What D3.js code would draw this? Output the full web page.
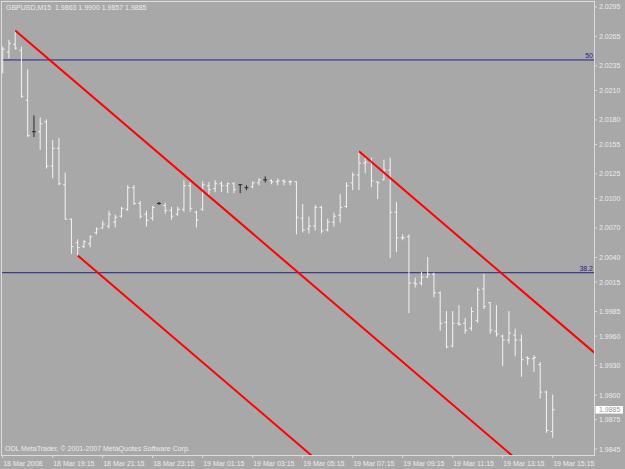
<!DOCTYPE html>
<html>
<head>
<meta charset="utf-8">
<script src="https://cdn.jsdelivr.net/npm/d3@7"></script>
<style>
html, body { margin: 0; padding: 0; background: #a8a8a8; }
svg { display: block; font-family: "Liberation Sans", Arial, sans-serif; }
</style>
</head>
<body>
<div class="chart"></div>
<script>
let width = 625,
    height = 469;

const symbol = "GBPUSD,M15";
const copyright = "ODL MetaTrader, \u00A9 2001-2007 MetaQuotes Software Corp.";

// M15 bars, 18 Mar 17:15 .. 19 Mar 15:15
const opens = [
    2.0231, 2.0249, 2.0257, 2.0251, 2.0200, 2.0168, 2.0168, 2.0178, 2.0133, 2.0151,
    2.0114, 2.0079, 2.0055, 2.0051, 2.0054, 2.0065, 2.0070, 2.0072, 2.0076, 2.0082,
    2.0089, 2.0111, 2.0095, 2.0084, 2.0080, 2.0095, 2.0093, 2.0088, 2.0084, 2.0089,
    2.0113, 2.0086, 2.0089, 2.0113, 2.0110, 2.0115, 2.0113, 2.0115, 2.0114, 2.0111,
    2.0112, 2.0116, 2.0119, 2.0118, 2.0117, 2.0118, 2.0117, 2.0117, 2.0080, 2.0069,
    2.0072, 2.0091, 2.0068, 2.0076, 2.0083, 2.0092, 2.0116, 2.0124, 2.0136, 2.0137,
    2.0117, 2.0119, 2.0129, 2.0086, 2.0060, 2.0061, 2.0014, 2.0014, 2.0020, 2.0023,
    2.0004, 1.9974, 1.9950, 1.9973, 1.9973, 1.9968, 1.9976, 2.0008, 1.9994, 1.9965,
    1.9960, 1.9956, 1.9961, 1.9956, 1.9938, 1.9937, 1.9931, 1.9903, 1.9863
];
const highs = [
    2.0254, 2.0261, 2.0271, 2.0254, 2.0231, 2.0184, 2.0182, 2.0180, 2.0159, 2.0161,
    2.0126, 2.0079, 2.0058, 2.0057, 2.0062, 2.0070, 2.0077, 2.0087, 2.0083, 2.0091,
    2.0113, 2.0113, 2.0097, 2.0087, 2.0092, 2.0096, 2.0095, 2.0091, 2.0091, 2.0118,
    2.0116, 2.0087, 2.0117, 2.0116, 2.0118, 2.0117, 2.0116, 2.0116, 2.0114, 2.0113,
    2.0117, 2.0120, 2.0122, 2.0119, 2.0120, 2.0119, 2.0118, 2.0117, 2.0094, 2.0081,
    2.0093, 2.0092, 2.0079, 2.0085, 2.0104, 2.0116, 2.0126, 2.0148, 2.0141, 2.0141,
    2.0117, 2.0139, 2.0141, 2.0096, 2.0063, 2.0063, 2.0019, 2.0025, 2.0040, 2.0024,
    2.0005, 1.9985, 1.9985, 1.9991, 1.9978, 1.9989, 2.0009, 2.0023, 1.9994, 1.9991,
    1.9961, 1.9985, 1.9967, 1.9961, 1.9939, 1.9940, 1.9933, 1.9904, 1.9900
];
const lows = [
    2.0228, 2.0243, 2.0252, 2.0203, 2.0163, 2.0163, 2.0150, 2.0131, 2.0121, 2.0114,
    2.0079, 2.0044, 2.0042, 2.0050, 2.0051, 2.0064, 2.0070, 2.0070, 2.0071, 2.0081,
    2.0088, 2.0094, 2.0080, 2.0072, 2.0078, 2.0094, 2.0085, 2.0079, 2.0083, 2.0087,
    2.0087, 2.0071, 2.0088, 2.0104, 2.0107, 2.0107, 2.0106, 2.0106, 2.0106, 2.0109,
    2.0111, 2.0114, 2.0117, 2.0115, 2.0114, 2.0114, 2.0114, 2.0064, 2.0066, 2.0065,
    2.0068, 2.0065, 2.0067, 2.0072, 2.0076, 2.0091, 2.0109, 2.0109, 2.0126, 2.0112,
    2.0100, 2.0119, 2.0040, 2.0046, 2.0058, 1.9984, 2.0010, 2.0012, 2.0020, 2.0000,
    1.9966, 1.9948, 1.9949, 1.9971, 1.9963, 1.9966, 1.9974, 1.9988, 1.9963, 1.9960,
    1.9930, 1.9953, 1.9940, 1.9919, 1.9931, 1.9924, 1.9897, 1.9862, 1.9857
];
const closes = [
    2.0252, 2.0258, 2.0253, 2.0204, 2.0164, 2.0168, 2.0176, 2.0133, 2.0151, 2.0115,
    2.0079, 2.0051, 2.0050, 2.0056, 2.0061, 2.0069, 2.0074, 2.0084, 2.0081, 2.0090,
    2.0111, 2.0095, 2.0082, 2.0078, 2.0091, 2.0095, 2.0088, 2.0082, 2.0089, 2.0113,
    2.0090, 2.0078, 2.0114, 2.0109, 2.0115, 2.0113, 2.0115, 2.0109, 2.0114, 2.0111,
    2.0116, 2.0119, 2.0119, 2.0117, 2.0118, 2.0117, 2.0117, 2.0081, 2.0068, 2.0072,
    2.0091, 2.0067, 2.0076, 2.0082, 2.0091, 2.0113, 2.0124, 2.0136, 2.0137, 2.0118,
    2.0116, 2.0129, 2.0086, 2.0060, 2.0060, 2.0014, 2.0013, 2.0020, 2.0023, 2.0004,
    1.9973, 1.9949, 1.9973, 1.9972, 1.9966, 1.9985, 2.0007, 1.9990, 1.9966, 1.9962,
    1.9956, 1.9963, 1.9956, 1.9936, 1.9937, 1.9938, 1.9903, 1.9864, 1.9885
];
const darkBars = [5, 25, 38, 39, 42];

const timeTickBars = [0, 8, 16, 24, 32, 40, 48, 56, 64, 72, 80, 88];
const timeLabels = ["18 Mar 2008", "18 Mar 19:15", "18 Mar 21:15", "18 Mar 23:15",
    "19 Mar 01:15", "19 Mar 03:15", "19 Mar 05:15", "19 Mar 07:15",
    "19 Mar 09:15", "19 Mar 11:15", "19 Mar 13:15", "19 Mar 15:15"];
const priceLabels = ["2.0295", "2.0265", "2.0235", "2.0210", "2.0180", "2.0155",
    "2.0125", "2.0100", "2.0070", "2.0040", "2.0015", "1.9985", "1.9960",
    "1.9930", "1.9900", "1.9875", "1.9845"];

const fiboNames = ["50", "38.2"];
const fiboPrices = [2.0241, 2.00245];

// channel lines: anchor [bar, price], common slope in price per bar
const channelAnchors = [[2, 2.0271], [12, 2.0042], [57, 2.0148]];
const channelSlope = -0.000544;

const plot = { left: 2, top: 2, right: 594, bottom: 455 };

document.addEventListener('DOMContentLoaded', () => {
    let svg = d3.select(".chart").append("svg")
        .attr("width", width)
        .attr("height", height);

    let x = d3.scaleLinear().domain([0, 88]).range([2.7, 552.7]);
    let y = d3.scaleLinear().domain([1.9839, 2.0302]).range([plot.bottom, 0]);

    svg.append("rect")
        .attr("width", width).attr("height", height)
        .style("fill", "#a8a8a8");

    svg.append("clipPath").attr("id", "plotclip")
        .append("rect")
        .attr("x", plot.left).attr("y", plot.top)
        .attr("width", plot.right - plot.left)
        .attr("height", plot.bottom - plot.top);

    let inner = svg.append("g").attr("clip-path", "url(#plotclip)");

    // fibo levels
    fiboPrices.forEach((p, k) => {
        inner.append("line")
            .attr("x1", plot.left).attr("x2", plot.right)
            .attr("y1", y(p)).attr("y2", y(p))
            .style("stroke", "#22228a")
            .style("stroke-width", 1);
        svg.append("text")
            .attr("x", 593).attr("y", y(p) - 1.5)
            .attr("text-anchor", "end")
            .style("font-size", "7px")
            .style("fill", "#22228a")
            .text(fiboNames[k]);
    });

    // bars
    d3.range(opens.length).forEach(i => {
        let col = darkBars.includes(i) ? "#2a2a2a" : "#f4f4f4";
        let g = inner.append("g").style("stroke", col).style("stroke-width", 1);
        g.append("line")
            .attr("x1", x(i)).attr("x2", x(i))
            .attr("y1", y(highs[i]) - 0.5).attr("y2", y(lows[i]) + 0.5);
        g.append("line")
            .attr("x1", x(i) - 2).attr("x2", x(i))
            .attr("y1", y(opens[i])).attr("y2", y(opens[i]));
        g.append("line")
            .attr("x1", x(i)).attr("x2", x(i) + 2)
            .attr("y1", y(closes[i])).attr("y2", y(closes[i]));
    });

    // channel lines
    channelAnchors.forEach(a => {
        let b2 = 120;
        inner.append("line")
            .attr("x1", x(a[0])).attr("y1", y(a[1]))
            .attr("x2", x(b2)).attr("y2", y(a[1] + channelSlope * (b2 - a[0])))
            .style("stroke", "#ff0000")
            .style("stroke-width", 2);
    });

    // frame
    svg.append("rect")
        .attr("x", plot.left - 0.5).attr("y", plot.top - 0.5)
        .attr("width", plot.right - plot.left + 1)
        .attr("height", plot.bottom - plot.top + 1)
        .style("fill", "none")
        .style("stroke", "#dcdcdc");

    // price axis
    priceLabels.forEach(lbl => {
        let py = y(+lbl);
        svg.append("line")
            .attr("x1", plot.right).attr("x2", plot.right + 3)
            .attr("y1", py).attr("y2", py)
            .style("stroke", "#dcdcdc");
        svg.append("text")
            .attr("x", 599).attr("y", py + 2.5)
            .style("font-size", "7px")
            .style("fill", "#ececec")
            .text(lbl);
    });

    // bid box
    let last = closes[closes.length - 1];
    svg.append("rect")
        .attr("x", 595.5).attr("y", y(last) - 3.8)
        .attr("width", 27.5).attr("height", 7.6)
        .style("fill", "#ffffff");
    svg.append("text")
        .attr("x", 599).attr("y", y(last) + 2.5)
        .style("font-size", "7px")
        .style("fill", "#9a9a9a")
        .text(last.toFixed(4));

    // time axis
    timeTickBars.forEach((b, k) => {
        svg.append("line")
            .attr("x1", x(b)).attr("x2", x(b))
            .attr("y1", plot.bottom).attr("y2", plot.bottom + 3)
            .style("stroke", "#dcdcdc");
        svg.append("text")
            .attr("x", x(b) + 0.5).attr("y", 465.5)
            .style("font-size", "7px")
            .style("fill", "#ececec")
            .text(timeLabels[k]);
    });

    // header and footer text
    let n = opens.length - 1;
    svg.append("text")
        .attr("x", 6).attr("y", 9.5)
        .style("font-size", "7px")
        .style("white-space", "pre")
        .style("fill", "#ececec")
        .text(symbol + "  " + [opens[n], highs[n], lows[n], closes[n]].map(v => v.toFixed(4)).join(" "));

    svg.append("text")
        .attr("x", 5).attr("y", 451)
        .style("font-size", "7px")
        .style("fill", "#ececec")
        .text(copyright);
});
</script>
</body>
</html>
